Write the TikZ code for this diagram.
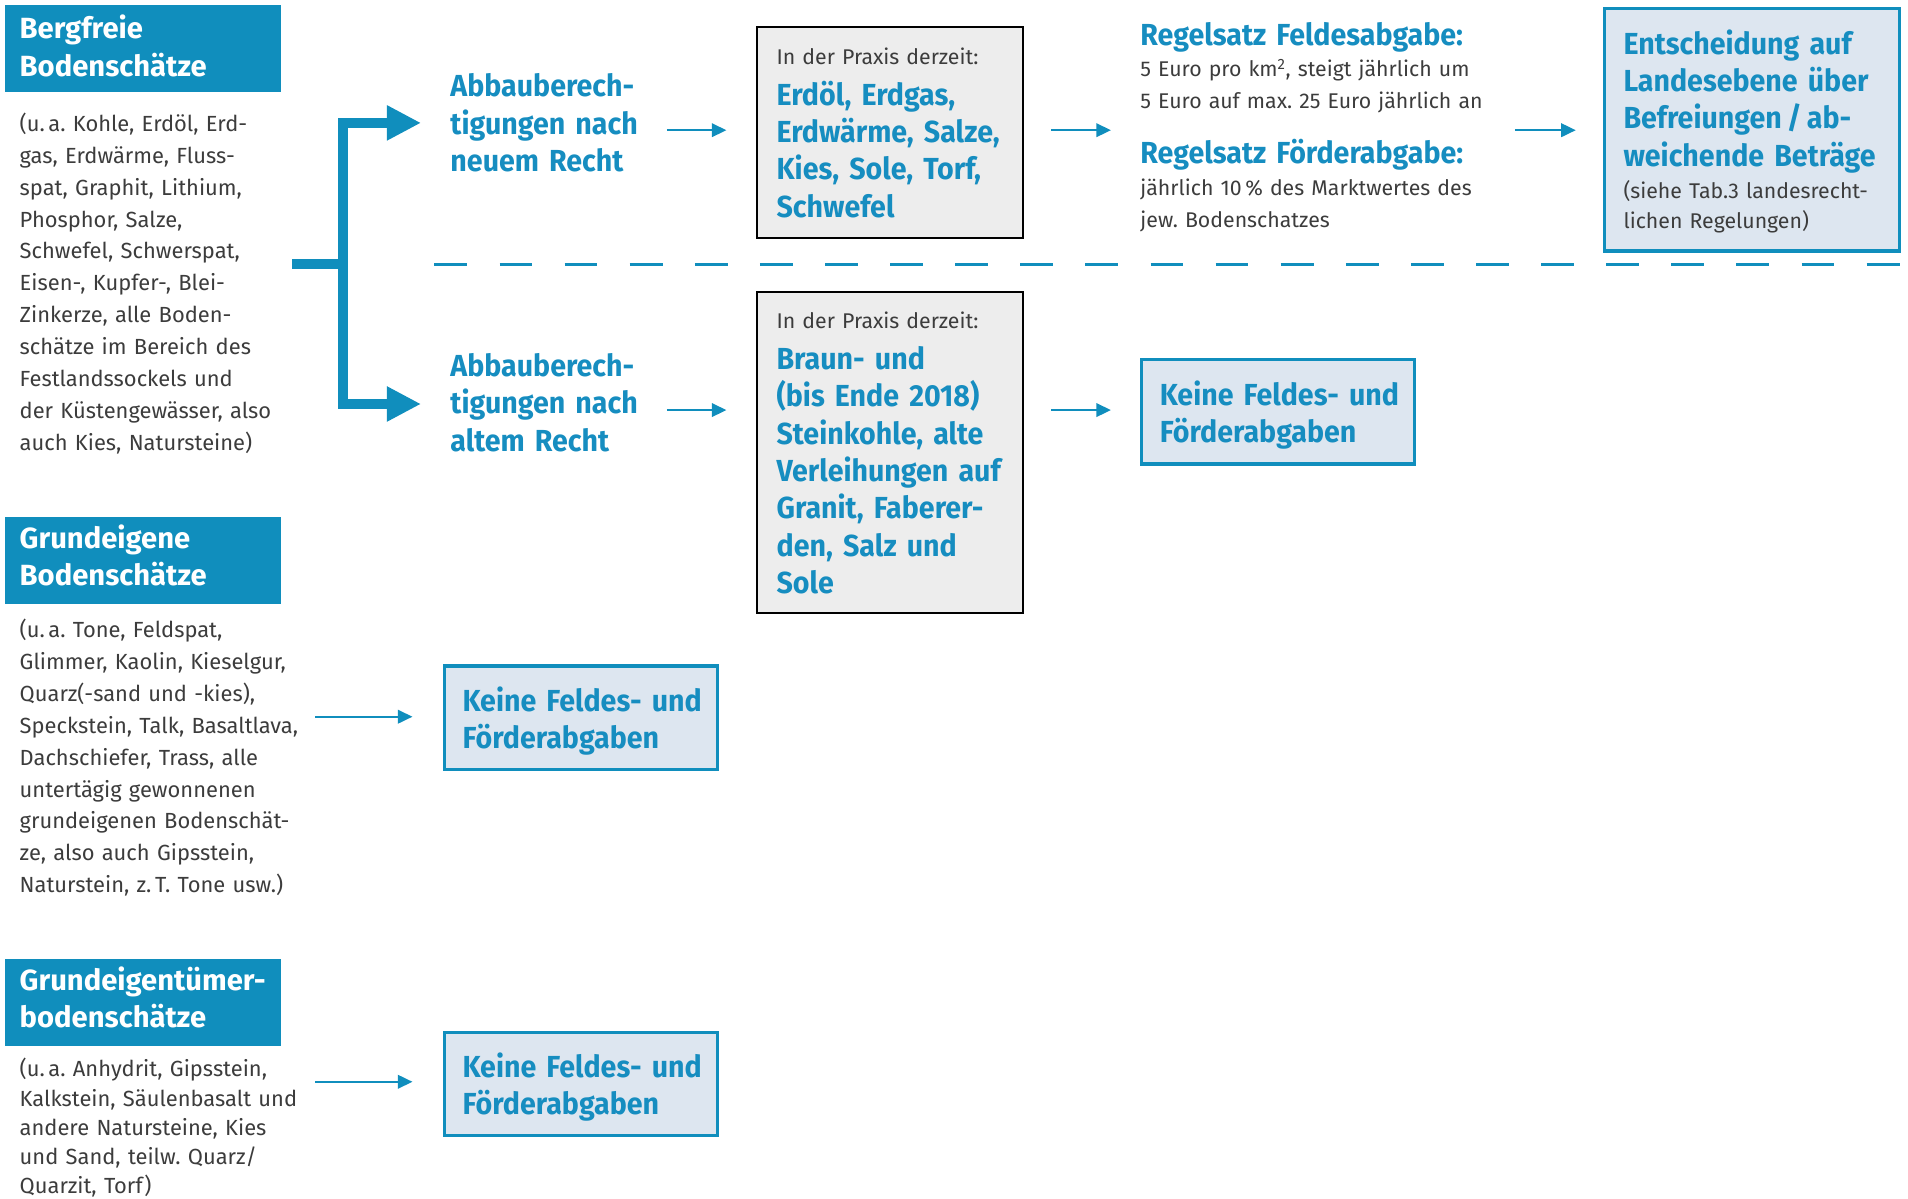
\documentclass[tikz,border=0pt]{standalone}
\usepackage{fontspec}
\setmainfont{Fira Sans}
\newfontfamily\cnd{Fira Sans}[FakeStretch=0.94]
\usetikzlibrary{arrows.meta}
\definecolor{hblue}{RGB}{16,142,189}
\definecolor{tblue}{RGB}{22,141,192}
\definecolor{lblue}{RGB}{221,230,240}
\definecolor{gfill}{RGB}{237,237,237}
\definecolor{gtext}{RGB}{60,60,60}
\begin{document}
\frenchspacing
\begin{tikzpicture}[x=1pt,y=-1pt,
  hdrbox/.style={fill=hblue, draw=none, inner sep=0pt, anchor=north west},
  graybox/.style={fill=gfill, draw=black, line width=1.8pt, inner sep=0pt, anchor=north west},
  bluebox/.style={fill=lblue, draw=hblue, line width=2.6pt, inner sep=0pt, anchor=north west},
  txt/.style={inner sep=0pt, anchor=base west, align=left, text width=#1},
  txt/.default=320pt,
  hdrtxt/.style={txt, text=white, font={\fontsize{24}{30.5}\selectfont\bfseries}},
  bodytxt/.style={txt, text=gtext, font={\fontsize{18}{26.2}\selectfont}},
  bluetxt/.style={txt, text=tblue, font={\cnd\bfseries\fontsize{25}{30.7}\selectfont}},
  smalltxt/.style={txt, text=gtext, font={\fontsize{17.5}{26}\selectfont}},
  sarr/.style={draw=hblue, line width=2pt, -{Triangle[length=12pt,width=11pt]}},
  bigline/.style={draw=hblue, line width=8pt},
  bigarr/.style={bigline, -{Triangle[length=28pt,width=27pt]}},
  dashline/.style={draw=hblue, line width=2.5pt, dash pattern=on 27pt off 26.5pt}
]
\useasboundingbox (0,0) rectangle (1568,985);

% ---------- left column ----------
\node[hdrbox, minimum width=227pt, minimum height=71pt] (h1) at (4,4) {};
\node[hdrtxt] (h1t) at (16,32) {Bergfreie\\Bodenschätze};
\node[bodytxt] (b1) at (16,108) {(u.\,a. Kohle, Erdöl, Erd-\\
gas, Erdwärme, Fluss-\\
spat, Graphit, Lithium,\\
Phosphor, Salze,\\
Schwefel, Schwerspat,\\
Eisen-, Kupfer-, Blei-\\
Zinkerze, alle Boden-\\
schätze im Bereich des\\
Festlandssockels und\\
der Küstengewässer, also\\
auch Kies, Natursteine)};

\node[hdrbox, minimum width=227pt, minimum height=71pt] (h2) at (4,425) {};
\node[hdrtxt] (h2t) at (16,451) {Grundeigene\\Bodenschätze};
\node[bodytxt] (b2) at (16,524) {(u.\,a. Tone, Feldspat,\\
Glimmer, Kaolin, Kieselgur,\\
Quarz(-sand und -kies),\\
Speckstein, Talk, Basaltlava,\\
Dachschiefer, Trass, alle\\
untertägig gewonnenen\\
grundeigenen Bodenschät-\\
ze, also auch Gipsstein,\\
Naturstein, z.\,T. Tone usw.)};

\node[hdrbox, minimum width=227pt, minimum height=71pt] (h3) at (4,788) {};
\node[hdrtxt] (h3t) at (16,814) {Grundeigentümer-\\bodenschätze};
\node[bodytxt, font={\fontsize{18}{24}\selectfont}] (b3) at (16,885) {(u.\,a. Anhydrit, Gipsstein,\\
Kalkstein, Säulenbasalt und\\
andere Natursteine, Kies\\
und Sand, teilw. Quarz/\\
Quarzit, Torf)};

% ---------- bracket arrow ----------
\coordinate (stem) at (240,217);
\coordinate (junc) at (282,217);
\coordinate (toptip) at (346,101);
\coordinate (bottip) at (346,332);
\draw[bigline] (stem) -- (junc);
\draw[bigarr] (junc) |- (toptip);
\draw[bigarr] (junc) |- (bottip);

% ---------- middle ----------
\node[bluetxt] (ab1) at (370,79.5) {Abbauberech-\\tigungen nach\\neuem Recht};
\node[bluetxt] (ab2) at (370,309.5) {Abbauberech-\\tigungen nach\\altem Recht};

\node[graybox, minimum width=219pt, minimum height=174pt] (g1) at (621,21) {};
\node[smalltxt] (g1a) at (638,53) {In der Praxis derzeit:};
\node[bluetxt] (g1b) at (638,86.5) {Erdöl, Erdgas,\\Erdwärme, Salze,\\Kies, Sole, Torf,\\Schwefel};

\node[graybox, minimum width=219pt, minimum height=264pt] (g2) at (621,239) {};
\node[smalltxt] (g2a) at (638,270) {In der Praxis derzeit:};
\node[bluetxt] (g2b) at (638,303.5) {Braun- und\\(bis Ende 2018)\\Steinkohle, alte\\Verleihungen auf\\Granit, Faberer-\\den, Salz und\\Sole};

% ---------- right ----------
\node[bluetxt] (r1t) at (937,37.5) {Regelsatz Feldesabgabe:};
\node[smalltxt] (r1b) at (937,63) {5 Euro pro km\textsuperscript{2}, steigt jährlich um\\5 Euro auf max. 25 Euro jährlich an};
\node[bluetxt] (r2t) at (937,134.5) {Regelsatz Förderabgabe:};
\node[smalltxt] (r2b) at (937,161) {jährlich 10\,\% des Marktwertes des\\jew. Bodenschatzes};

\node[bluebox, minimum width=243pt, minimum height=199pt] (ent) at (1317,6) {};
\node[bluetxt] (entt) at (1334,44.5) {Entscheidung auf\\Landesebene über\\Befreiungen\,/\,ab-\\weichende Beträge};
\node[smalltxt, font={\fontsize{17.5}{25}\selectfont}] (entb) at (1334,163) {(siehe Tab.3 landesrecht-\\lichen Regelungen)};

\node[bluebox, minimum width=224pt, minimum height=86pt] (k1) at (937,294) {};
\node[bluetxt, font={\cnd\bfseries\fontsize{25}{30}\selectfont}] (k1t) at (953,333.5) {Keine Feldes- und\\Förderabgaben};

\node[bluebox, minimum width=224pt, minimum height=85pt] (k2) at (364,546) {};
\node[bluetxt, font={\cnd\bfseries\fontsize{25}{30.5}\selectfont}] (k2t) at (380,584.5) {Keine Feldes- und\\Förderabgaben};

\node[bluebox, minimum width=224pt, minimum height=85pt] (k3) at (364,847) {};
\node[bluetxt, font={\cnd\bfseries\fontsize{25}{30.5}\selectfont}] (k3t) at (380,885.5) {Keine Feldes- und\\Förderabgaben};

% ---------- dashed separator ----------
\coordinate (dl) at (357,217);
\coordinate (dr) at (1568,217);
\draw[dashline] (dl) -- (dr);

% ---------- small arrows ----------
\coordinate (a1s) at (548,107); \coordinate (a1e) at (597,107);
\coordinate (a2s) at (864,107); \coordinate (a2e) at (913,107);
\coordinate (a3s) at (1245,107); \coordinate (a3e) at (1295,107);
\coordinate (b1s) at (548,337); \coordinate (b1e) at (597,337);
\coordinate (b2s) at (864,337); \coordinate (b2e) at (913,337);
\coordinate (c1s) at (259,589); \coordinate (c1e) at (339,589);
\coordinate (d1s) at (259,889); \coordinate (d1e) at (339,889);
\draw[sarr] (a1s) -- (a1e);
\draw[sarr] (a2s) -- (a2e);
\draw[sarr] (a3s) -- (a3e);
\draw[sarr] (b1s) -- (b1e);
\draw[sarr] (b2s) -- (b2e);
\draw[sarr] (c1s) -- (c1e);
\draw[sarr] (d1s) -- (d1e);
\end{tikzpicture}
\end{document}
